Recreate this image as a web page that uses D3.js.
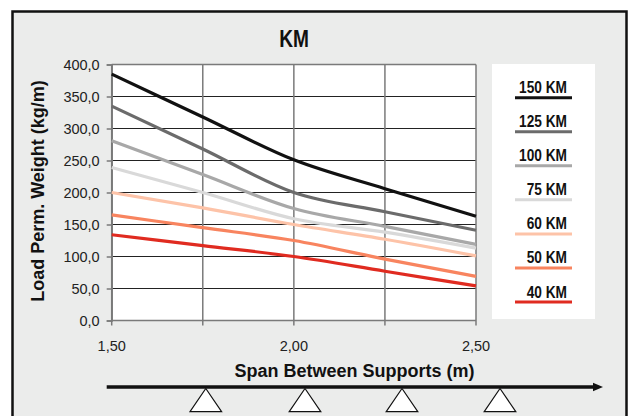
<!DOCTYPE html>
<html>
<head>
<meta charset="utf-8">
<script src="https://cdn.jsdelivr.net/npm/d3@7"></script>
<style>
  body { margin: 0; background: #fff; }
  text { font-family: "Liberation Sans", Arial, sans-serif; }
</style>
</head>
<body>
<div id="chart"></div>
<script>
// span values (m) and load per series (kg/m)
let spans = [1.50, 1.75, 2.00, 2.25, 2.50];
let seriesNames = ["150 KM", "125 KM", "100 KM", "75 KM", "60 KM", "50 KM", "40 KM"];
let km150 = [385, 318, 251, 206, 163];
let km125 = [335, 268, 200, 170, 141];
let km100 = [281, 228, 175, 147, 119];
let km75  = [239, 200, 159, 138, 113];
let km60  = [200, 176, 150, 127, 101];
let km50  = [165, 145, 125, 96, 69];
let km40  = [134, 117, 100, 77, 54];
let seriesColors = ["#111111", "#6b6b6b", "#a8a8a8", "#d9d9d9", "#fdc3a8", "#f8845f", "#e02b20"];
let yTicks = [0, 50, 100, 150, 200, 250, 300, 350, 400];
let xGrid = [1.50, 1.75, 2.00, 2.25, 2.50];
let xLabels = [1.50, 2.00, 2.50];
let supports = [205.8, 305, 402, 500]; // support triangle centers along the beam

let allSeries = [km150, km125, km100, km75, km60, km50, km40];

let W = 630, H = 416;
let svg = d3.select("#chart").append("svg")
  .attr("width", W)
  .attr("height", H);

// outer panel
svg.append("rect")
  .attr("x", 12.5).attr("y", 11.5)
  .attr("width", 614).attr("height", 430)
  .attr("fill", "#ebeceb")
  .attr("stroke", "#111")
  .attr("stroke-width", 2.5);

let x = d3.scaleLinear().domain([1.5, 2.5]).range([111.7, 476]);
let y = d3.scaleLinear().domain([0, 400]).range([320.5, 64.5]);

// plot background
svg.append("rect")
  .attr("x", x(1.5)).attr("y", y(400))
  .attr("width", x(2.5) - x(1.5)).attr("height", y(0) - y(400))
  .attr("fill", "#fff");

// horizontal grid
svg.append("g").selectAll("line")
  .data(yTicks.filter(d => d > 0 && d < 400))
  .enter().append("line")
  .attr("x1", x(1.5)).attr("x2", x(2.5))
  .attr("y1", d => y(d)).attr("y2", d => y(d))
  .attr("stroke", "#222").attr("stroke-width", 1.1);

// vertical grid (with ticks below axis)
svg.append("g").selectAll("line")
  .data(xGrid)
  .enter().append("line")
  .attr("x1", d => x(d)).attr("x2", d => x(d))
  .attr("y1", y(400)).attr("y2", y(0) + 5)
  .attr("stroke", "#7a7a7a").attr("stroke-width", 1.5);

// top and bottom borders
svg.append("line")
  .attr("x1", x(1.5)).attr("x2", x(2.5))
  .attr("y1", y(400)).attr("y2", y(400))
  .attr("stroke", "#7a7a7a").attr("stroke-width", 1.5);
svg.append("line")
  .attr("x1", x(1.5)).attr("x2", x(2.5))
  .attr("y1", y(0)).attr("y2", y(0))
  .attr("stroke", "#7a7a7a").attr("stroke-width", 1.5);

// y axis
let yAxis = d3.axisLeft(y)
  .tickValues(yTicks)
  .tickSize(5)
  .tickPadding(7)
  .tickFormat(d => d3.format(".1f")(d).replace(".", ","));
let gy = svg.append("g")
  .attr("transform", "translate(" + x(1.5) + ",0)")
  .call(yAxis);
gy.select(".domain").attr("stroke", "#7a7a7a").attr("stroke-width", 1.5);
gy.selectAll(".tick line").attr("stroke", "#7a7a7a").attr("stroke-width", 1.5);
gy.selectAll(".tick text")
  .attr("font-size", "14.5px")
  .attr("fill", "#222")
  .style("font-family", "'Liberation Sans', Arial, sans-serif");

// x labels
svg.append("g").selectAll("text")
  .data(xLabels)
  .enter().append("text")
  .attr("x", d => x(d))
  .attr("y", 351)
  .attr("text-anchor", "middle")
  .attr("font-size", "14.5px")
  .attr("fill", "#222")
  .text(d => d3.format(".2f")(d).replace(".", ","));

// series lines
let line = d3.line()
  .x((d, i) => x(spans[i]))
  .y(d => y(d))
  .curve(d3.curveMonotoneX);

svg.append("g").selectAll("path")
  .data(allSeries.slice().reverse())
  .enter().append("path")
  .attr("d", d => line(d))
  .attr("fill", "none")
  .attr("stroke", (d, i) => seriesColors[seriesColors.length - 1 - i])
  .attr("stroke-width", 3.2);

// title (condensed bold)
svg.append("text")
  .attr("transform", "translate(294,47) scale(0.78,1)")
  .attr("text-anchor", "middle")
  .attr("font-size", "24.5px")
  .attr("font-weight", "bold")
  .attr("fill", "#111")
  .text("KM");

// axis titles
svg.append("text")
  .attr("transform", "translate(44,191) rotate(-90)")
  .attr("text-anchor", "middle")
  .attr("font-size", "18px")
  .attr("font-weight", "bold")
  .attr("fill", "#111")
  .text("Load Perm. Weight (kg/m)");

svg.append("text")
  .attr("x", 354.5).attr("y", 377)
  .attr("text-anchor", "middle")
  .attr("font-size", "18px")
  .attr("font-weight", "bold")
  .attr("fill", "#111")
  .text("Span Between Supports (m)");

// legend
let legend = svg.append("g");
legend.append("rect")
  .attr("x", 492).attr("y", 64)
  .attr("width", 103).attr("height", 255)
  .attr("fill", "#fff");
let legY = d3.scalePoint().domain(seriesNames).range([97.7, 302]);
let items = legend.selectAll("g.item")
  .data(seriesNames)
  .enter().append("g").attr("class", "item");
items.append("line")
  .attr("x1", 515).attr("x2", 572)
  .attr("y1", d => legY(d)).attr("y2", d => legY(d))
  .attr("stroke", (d, i) => seriesColors[i])
  .attr("stroke-width", 3);
items.append("text")
  .attr("transform", d => "translate(567," + (legY(d) - 4.5) + ") scale(0.83,1)")
  .attr("text-anchor", "end")
  .attr("font-size", "16.5px")
  .attr("font-weight", "bold")
  .attr("fill", "#111")
  .text(d => d);

// beam with arrow and supports
svg.append("line")
  .attr("x1", 106.7).attr("x2", 594)
  .attr("y1", 387).attr("y2", 387)
  .attr("stroke", "#111").attr("stroke-width", 3.5);
svg.append("path")
  .attr("d", "M593,382.7L603,387L593,391.3Z")
  .attr("fill", "#111");
svg.append("g").selectAll("path")
  .data(supports)
  .enter().append("path")
  .attr("d", d => "M" + d + ",388.5L" + (d + 15.8) + ",411.7L" + (d - 15.8) + ",411.7Z")
  .attr("fill", "#fff")
  .attr("stroke", "#111")
  .attr("stroke-width", 1.2);
</script>
</body>
</html>
